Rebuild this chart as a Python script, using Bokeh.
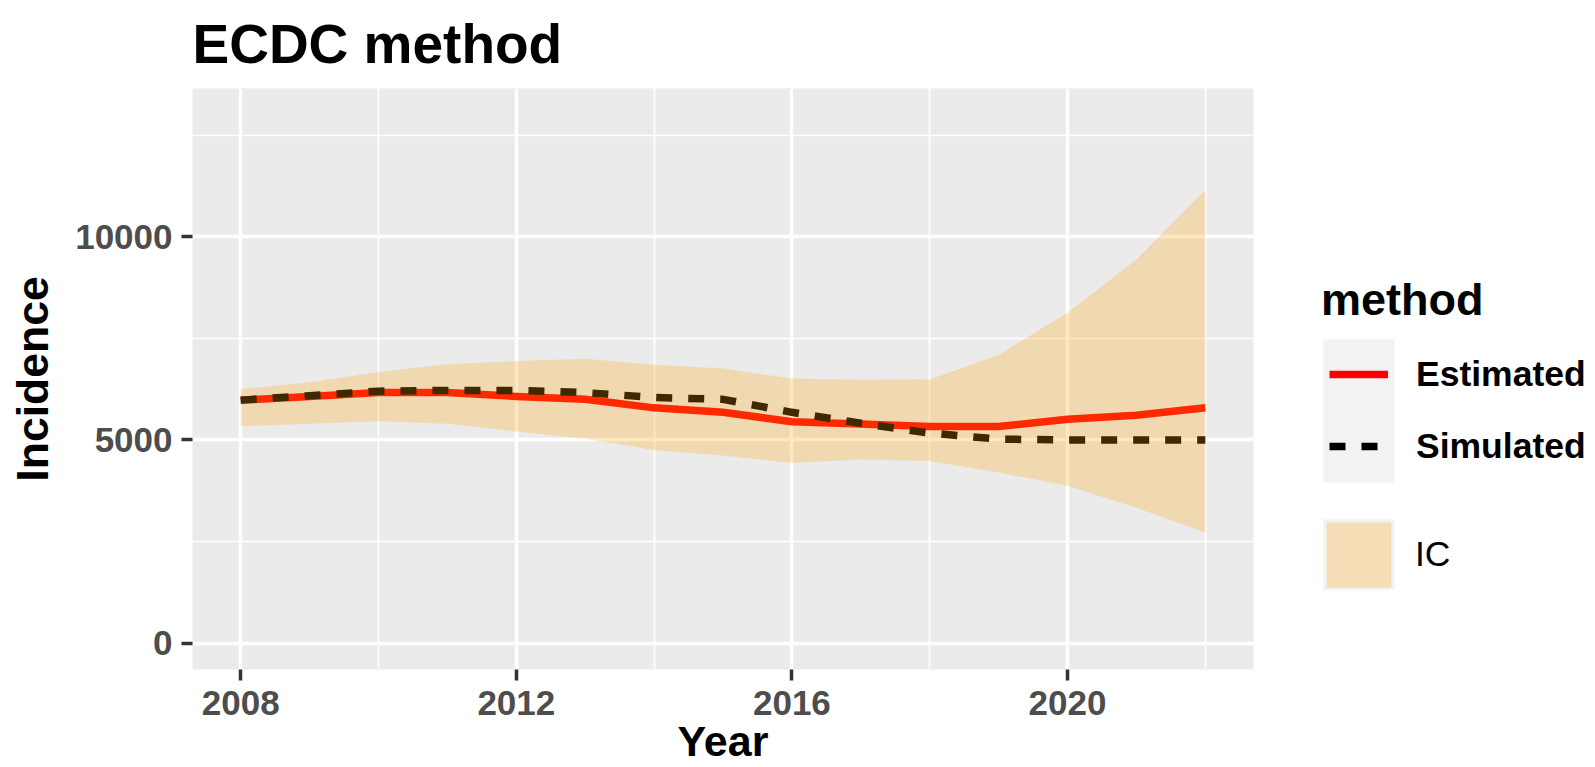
import numpy as np
from bokeh.plotting import figure
from bokeh.layouts import row
from bokeh.models import Range1d, FixedTicker, Legend, LegendItem
from bokeh.embed import file_html
from bokeh.resources import INLINE

# ---- data ----
years = [2008, 2009, 2010, 2011, 2012, 2013, 2014, 2015, 2016, 2017, 2018, 2019, 2020, 2021, 2022]
estimated = [5980, 6070, 6170, 6170, 6070, 6000, 5790, 5680, 5450, 5390, 5330, 5330, 5510, 5610, 5790]
simulated = [5980, 6090, 6200, 6220, 6220, 6165, 6045, 6000, 5680, 5410, 5170, 5020, 5000, 5000, 5000]
ic_upper = [6255, 6420, 6670, 6860, 6940, 7000, 6850, 6760, 6510, 6480, 6490, 7090, 8130, 9440, 11150]
ic_lower = [5335, 5400, 5460, 5400, 5210, 5030, 4750, 4620, 4430, 4520, 4480, 4200, 3870, 3330, 2720]

x_ticks = [2008, 2012, 2016, 2020]
x_minor = [2010, 2014, 2018, 2022]
x_labels = ["2008", "2012", "2016", "2020"]
y_ticks = [0, 5000, 10000]
y_minor = [2500, 7500, 12500]
y_labels = ["0", "5000", "10000"]

series_labels = ["Estimated", "Simulated"]
ribbon_label = "IC"
legend_title = "method"

FONT = "Liberation Sans"
RED = "red"
BLACK = "black"
RIBBON = "orange"
NAN = [np.nan]

p = figure(width=1280, height=767, output_backend="svg", toolbar_location=None,
           title="ECDC method",
           x_range=Range1d(2007.3, 2022.7), y_range=Range1d(-650, 13650),
           min_border_left=192, min_border_right=27, min_border_top=88, min_border_bottom=97)

p.background_fill_color = "#EBEBEB"
p.border_fill_color = "white"
p.outline_line_color = None

# title
p.title.text_font = FONT
p.title.text_font_size = "55px"
p.title.text_font_style = "bold"
p.title.text_color = "black"
p.title.align = "left"
p.title.vertical_align = "top"
p.title.offset = 0
p.title.standoff = 24

# ticks
p.xaxis.ticker = FixedTicker(ticks=x_ticks, minor_ticks=x_minor)
p.yaxis.ticker = FixedTicker(ticks=y_ticks, minor_ticks=y_minor)
p.xaxis.major_label_overrides = {t: l for t, l in zip(x_ticks, x_labels)}
p.yaxis.major_label_overrides = {t: l for t, l in zip(y_ticks, y_labels)}

for ax in (p.xaxis, p.yaxis):
    ax.axis_line_color = None
    ax.major_tick_line_color = "#333333"
    ax.major_tick_line_width = 3.5
    ax.major_tick_out = 11
    ax.major_tick_in = 0
    ax.minor_tick_line_color = None
    ax.major_label_text_font = FONT
    ax.major_label_text_font_size = "35px"
    ax.major_label_text_font_style = "bold"
    ax.major_label_text_color = "#4D4D4D"
    ax.axis_label_text_font = FONT
    ax.axis_label_text_font_style = "bold"
    ax.axis_label_text_color = "black"

p.xaxis.major_label_standoff = 10
p.yaxis.major_label_standoff = 9
p.yaxis.axis_label = "Incidence"
p.yaxis.axis_label_text_font_size = "44.5px"
p.yaxis.axis_label_standoff = 15
p.xaxis.axis_label = "Year"
p.xaxis.axis_label_text_font_size = "43px"
p.xaxis.axis_label_standoff = -1

# grid
for g in (p.xgrid, p.ygrid):
    g.grid_line_color = "white"
    g.grid_line_width = 3.4
    g.minor_grid_line_color = "white"
    g.minor_grid_line_width = 1.7

# glyphs
p.line(years, estimated, line_color=RED, line_width=7.5, line_join="round")
p.line(years, simulated, line_color=BLACK, line_width=7.5, line_dash="16 16", line_join="round")
p.varea(x=years, y1=ic_lower, y2=ic_upper, fill_color=RIBBON, fill_alpha=0.25)

# ---- legend panel (separate figure, legend glyph proxies only) ----
q = figure(width=315, height=767, output_backend="svg", toolbar_location=None,
           x_range=Range1d(0, 1), y_range=Range1d(0, 1),
           x_axis_type=None, y_axis_type=None,
           min_border_left=0, min_border_right=0, min_border_top=0, min_border_bottom=0)
q.outline_line_color = None
q.background_fill_color = "white"
q.border_fill_color = "white"
q.grid.visible = False

k_bg = q.quad(left=NAN, right=NAN, top=NAN, bottom=NAN, fill_color="#F2F2F2", line_color=None)
k_none = q.quad(left=NAN, right=NAN, top=NAN, bottom=NAN, fill_alpha=0, line_alpha=0)
k_est = q.line(x=NAN, y=NAN, line_color=RED, line_width=7.5)
k_sim = q.line(x=NAN, y=NAN, line_color=BLACK, line_width=7.5, line_dash="16 16")
k_ic = q.varea(x=NAN, y1=NAN, y2=NAN, fill_color=RIBBON, fill_alpha=0.25)

common = dict(spacing=0, padding=0, margin=0, background_fill_alpha=0,
              border_line_color=None, label_text_font=FONT, label_text_color="black")
blank = dict(label_standoff=0, label_width=0, label_height=0, label_text_font_size="2px")

leg_title = Legend(items=[LegendItem(label=" ", renderers=[k_none])],
                   location=(41, 342), glyph_width=1, glyph_height=1,
                   title=legend_title, title_text_font=FONT, title_text_font_size="45px",
                   title_text_font_style="bold", title_text_color="black", title_standoff=0,
                   **blank, **common)
leg_bg = Legend(items=[LegendItem(label=" ", renderers=[k_bg])],
                location=(34, 169), glyph_width=89, glyph_height=179, **blank, **common)
leg_lines = Legend(items=[LegendItem(label=series_labels[0], renderers=[k_est]),
                          LegendItem(label=series_labels[1], renderers=[k_sim])],
                   location=(49, 187), glyph_width=59, glyph_height=72, label_standoff=28,
                   label_text_font_size="35.5px", label_text_font_style="bold", **common)
leg_ic_bg = Legend(items=[LegendItem(label=ribbon_label, renderers=[k_bg])],
                   location=(34, 71), glyph_width=89, glyph_height=88, label_standoff=12,
                   label_text_font_size="35.5px", label_text_font_style="normal", **common)
leg_ic = Legend(items=[LegendItem(label=" ", renderers=[k_ic])],
                location=(38, 74), glyph_width=81, glyph_height=81, **blank, **common)
for lg in (leg_title, leg_bg, leg_lines, leg_ic_bg, leg_ic):
    q.add_layout(lg)

layout = row(p, q)
open("out.html", "w").write(file_html(layout, INLINE))
